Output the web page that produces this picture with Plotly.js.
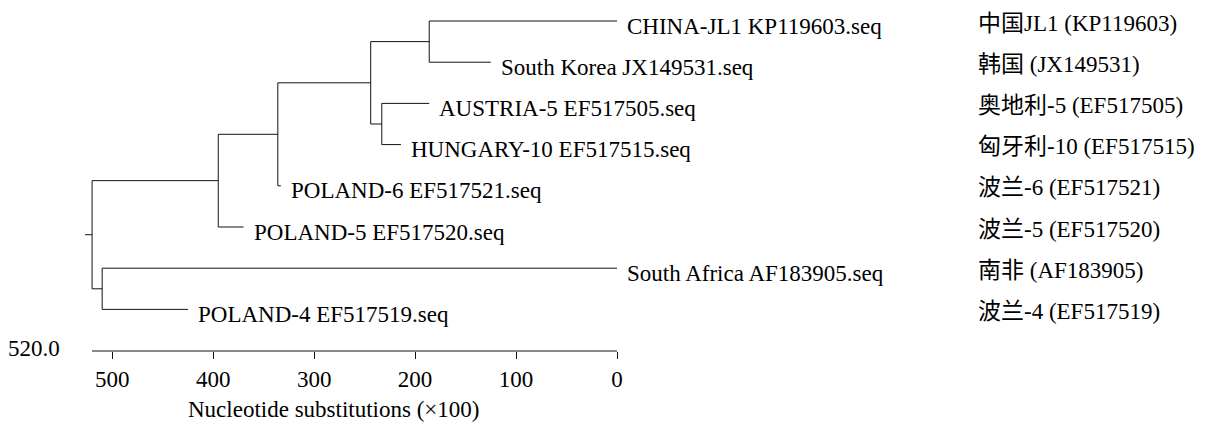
<!DOCTYPE html>
<html>
<head>
<meta charset="utf-8">
<script src="https://cdn.plot.ly/plotly-3.0.1.min.js"></script>
<style>html,body{margin:0;padding:0;background:#fff;}#chart{width:1214px;height:432px;}</style>
</head>
<body>
<div id="chart"></div>
<script>
// ---- data ----
const leafNames = ["CHINA-JL1 KP119603.seq", "South Korea JX149531.seq", "AUSTRIA-5 EF517505.seq", "HUNGARY-10 EF517515.seq", "POLAND-6 EF517521.seq", "POLAND-5 EF517520.seq", "South Africa AF183905.seq", "POLAND-4 EF517519.seq"];
const leafTips = [0, 125, 186, 214, 333, 370, 0, 425];
const cnLabels = ["中国JL1 (KP119603)", "韩国 (JX149531)", "奥地利-5 (EF517505)", "匈牙利-10 (EF517515)", "波兰-6 (EF517521)", "波兰-5 (EF517520)", "南非 (AF183905)", "波兰-4 (EF517519)"];
const nodeNames = ["n1", "n2", "n3", "n4", "n5", "n6", "root"];
const nodeHeights = [186, 233, 244, 336, 395, 510, 520];
const nodeKids = [["L0", "L1"], ["L2", "L3"], ["n1", "n2"], ["n3", "L4"], ["n4", "L5"], ["L6", "L7"], ["n5", "n6"]];
const rootStub = 527;
const xTickVals = [500, 400, 300, 200, 100, 0];
const xTickText = ["500", "400", "300", "200", "100", "0"];
const axisStart = 520;
const axisStartLabel = "520.0";
const xTitle = "Nucleotide substitutions (×100)";

// ---- build tree geometry ----
const pos = {};
leafNames.forEach((n, i) => { pos["L" + i] = {x: leafTips[i], y: i}; });
nodeNames.forEach((n, i) => {
  const ys = nodeKids[i].map(k => pos[k].y);
  pos[n] = {x: nodeHeights[i], y: ys.reduce((a, b) => a + b, 0) / ys.length};
});
const lx = [], ly = [];
nodeNames.forEach((n, i) => {
  const p = pos[n];
  const ys = nodeKids[i].map(k => pos[k].y);
  lx.push(p.x, p.x, null); ly.push(Math.min(...ys), Math.max(...ys), null);
  nodeKids[i].forEach(k => {
    lx.push(p.x, pos[k].x, null); ly.push(pos[k].y, pos[k].y, null);
  });
});
lx.push(rootStub, pos.root.x, null); ly.push(pos.root.y, pos.root.y, null);

const FONT = "Liberation Serif, Times New Roman, Noto Sans CJK SC, serif";
const fs = 23;

const annotations = [];
leafNames.forEach((n, i) => {
  annotations.push({x: leafTips[i], y: i, xref: 'x', yref: 'y', text: n, showarrow: false,
    xanchor: 'left', yanchor: 'middle', xshift: 8, yshift: -5, font: {family: FONT, size: fs, color: '#000'}});
  annotations.push({x: 1.6744, y: i, xref: 'paper', yref: 'y', text: cnLabels[i], showarrow: false,
    xanchor: 'left', yanchor: 'middle', yshift: -2, font: {family: FONT, size: fs, color: '#000'}});
});
annotations.push({x: -0.042, y: 0.006, xref: 'paper', yref: 'paper', text: axisStartLabel, showarrow: false,
  xanchor: 'right', yanchor: 'middle', font: {family: FONT, size: fs, color: '#000'}});
annotations.push({x: 0.469, y: -0.168, xref: 'paper', yref: 'paper', text: xTitle, showarrow: false,
  xanchor: 'center', yanchor: 'middle', font: {family: FONT, size: fs, color: '#000'}});

const trace = {x: lx, y: ly, type: 'scatter', mode: 'lines', line: {color: '#111', width: 1}, hoverinfo: 'skip', showlegend: false};

const layout = {
  width: 1214, height: 432,
  margin: {l: 84.4, r: 596.5, t: 0, b: 81},
  paper_bgcolor: '#fff', plot_bgcolor: '#fff',
  showlegend: false,
  font: {family: FONT, size: fs, color: '#000'},
  xaxis: {range: [528, 0], showgrid: false, zeroline: false, showline: false,
    tickmode: 'array', tickvals: xTickVals, ticktext: xTickText,
    ticks: 'outside', ticklen: 7, tickwidth: 1, tickcolor: '#111', ticklabelstandoff: 0,
    tickfont: {family: FONT, size: fs, color: '#000'}},
  yaxis: {range: [8.01, -0.51], visible: false, showgrid: false, zeroline: false},
  shapes: [{type: 'line', xref: 'x', yref: 'paper', x0: axisStart, x1: 0, y0: 0, y1: 0, line: {color: '#111', width: 1}}],
  annotations: annotations
};

Plotly.newPlot('chart', [trace], layout, {displayModeBar: false, staticPlot: true});
</script>
</body>
</html>
